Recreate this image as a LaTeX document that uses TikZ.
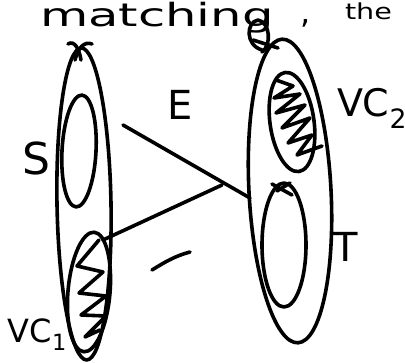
\documentclass[tikz,border=0pt]{standalone}
\usepackage{fontspec}
\setmainfont{DejaVu Sans}
\begin{document}
\begin{tikzpicture}[x=1pt,y=-1pt,
  pen/.style={line width=3.6pt,line cap=round,line join=round},
  lab/.style={inner sep=0pt,outer sep=0pt}]
\useasboundingbox (0,0) rectangle (405,363);
% top text
\node[lab,anchor=base west,xscale=1.55,font=\fontsize{32}{32}\selectfont] (txtm) at (40,27) {matching};
\node[lab,anchor=base west,font=\fontsize{32}{32}\selectfont] (txtc) at (300,24) {,};
\node[lab,anchor=base west,xscale=1.3,font=\fontsize{22}{22}\selectfont] (txtt) at (345,20) {the};
% left big ellipse
\draw[pen,rotate around={1:(84,204)}] (84,204) ellipse [x radius=27, y radius=156];
\draw[pen] (68,44) .. controls (74,40) and (79,48) .. (81,60);
\draw[pen] (92,44) .. controls (84,41) and (78,48) .. (75,60);
% S set
\draw[pen,rotate around={-3:(79,151)}] (79,151) ellipse [x radius=17, y radius=56];
% VC1 set
\draw[pen,rotate around={-5:(89,292)}] (89,292) ellipse [x radius=21, y radius=60];
\draw[pen] (99,240) -- (77,266) -- (103,272) -- (79,293) -- (106,296) -- (81,315) -- (106,316) -- (85,337) -- (100,330);
% right big ellipse
\draw[pen,rotate around={3:(290,191)}] (290,191) ellipse [x radius=41, y radius=152];
\draw[pen] (262,50) .. controls (245,45) and (246,22) .. (258,20) .. controls (270,22) and (272,45) .. (262,52);
\draw[pen] (253,40) -- (278,48);
% VC2 set
\draw[pen,rotate around={8:(292,122)}] (292,122) ellipse [x radius=22, y radius=50];
\draw[pen] (276,80) -- (293,86) -- (274,98) -- (300,94) -- (276,113) -- (305,105) -- (282,128) -- (310,118) -- (288,143) -- (312,135) -- (297,155) -- (322,146);
% lower right set
\draw[pen] (284,245) ellipse [x radius=22, y radius=62];
\draw[pen] (272,184) -- (292,195);
\draw[pen] (290,183) -- (277,191);
% edges
\coordinate (e1a) at (123,125);
\coordinate (e1b) at (250,198);
\coordinate (e2a) at (103,240);
\coordinate (e2b) at (222,185);
\draw[pen] (e1a) -- (e1b);
\draw[pen] (e2a) -- (e2b);
\coordinate (m1) at (152,270);
\coordinate (m2) at (190,252);
\draw[pen] (m1) .. controls (165,262) and (175,256) .. (m2);
% labels
\node[lab,font=\fontsize{44}{44}\selectfont] (S) at (36,158) {S};
\node[lab,font=\fontsize{40}{40}\selectfont] (E) at (180,105) {E};
\node[lab,anchor=base west,font=\fontsize{32}{32}\selectfont] (VC1) at (8,343) {VC\textsubscript{1}};
\node[lab,anchor=base west,font=\fontsize{38}{38}\selectfont] (VC2) at (337,117) {VC\textsubscript{2}};
\node[lab,font=\fontsize{40}{40}\selectfont] (T) at (346,247) {T};
\end{tikzpicture}
\end{document}
